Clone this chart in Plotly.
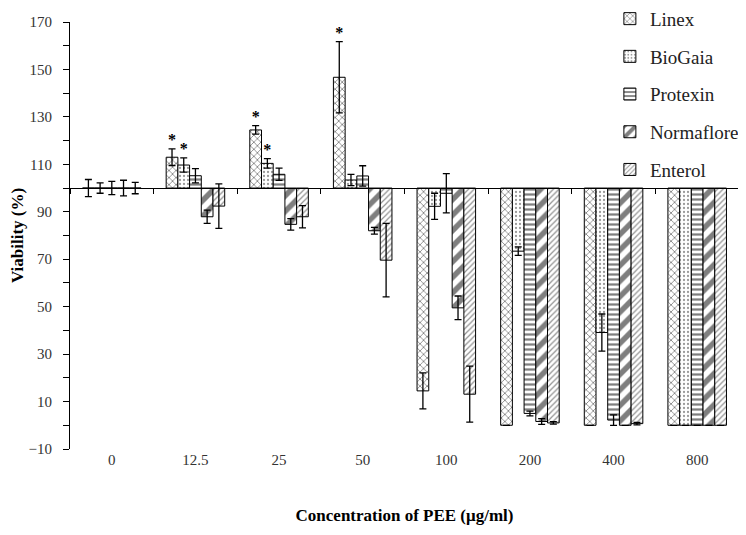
import plotly.graph_objects as go

categories = ["0", "12.5", "25", "50", "100", "200", "400", "800"]
series_names = ["Linex", "BioGaia", "Protexin", "Normaflore", "Enterol"]

linex = [100, 113, 124.5, 146.7, 14.5, 0, 0, 0]
linex_err = [3.6, 3.5, 1.8, 15, 7.6, 0, 0, 0]
biogaia = [100, 109.7, 110.4, 103.4, 92.3, 73.4, 39.1, 0]
biogaia_err = [2.2, 3, 2, 2.4, 5.5, 1.8, 7.8, 0]
protexin = [100, 105.2, 105.8, 105.1, 97.8, 5.0, 2.2, 0]
protexin_err = [2.8, 3, 2.6, 4.3, 8.3, 1, 2.2, 0]
normaflore = [100, 87.9, 84.7, 82, 49.5, 1.6, 0, 0]
normaflore_err = [3.3, 2.8, 2.4, 1.4, 5, 1.2, 0, 0]
enterol = [100, 92.4, 87.9, 69.6, 13.1, 1, 0.7, 0]
enterol_err = [2.4, 9.4, 4.7, 15.5, 11.8, 0.5, 0.5, 0]

# significance flags (asterisks)
linex_sig = [0, 1, 1, 1, 0, 0, 0, 0]
biogaia_sig = [0, 1, 1, 0, 0, 0, 0, 0]
protexin_sig = [0] * 8
normaflore_sig = [0] * 8
enterol_sig = [0] * 8

y_min, y_max, y_step = -10, 170, 20
baseline = 100

values = [linex, biogaia, protexin, normaflore, enterol]
errors = [linex_err, biogaia_err, protexin_err, normaflore_err, enterol_err]
sigs = [linex_sig, biogaia_sig, protexin_sig, normaflore_sig, enterol_sig]

patterns = [
    dict(shape="x", size=5, solidity=0.3, fgcolor="black", bgcolor="white"),
    dict(shape=".", size=4, solidity=0.25, fgcolor="#333", bgcolor="white"),
    dict(shape="-", size=5, solidity=0.45, fgcolor="black", bgcolor="white"),
    dict(shape="/", size=11, solidity=0.5, fgcolor="black", bgcolor="white"),
    dict(shape="/", size=4, solidity=0.3, fgcolor="#222", bgcolor="white"),
]

FONT = "Liberation Serif, Times New Roman, serif"

fig = go.Figure()
for i, name in enumerate(series_names):
    fig.add_trace(go.Bar(
        x=categories,
        y=[v - baseline for v in values[i]],
        base=baseline,
        name=name,
        offsetgroup=name,
        legendgroup=name,
        marker=dict(color="white", line=dict(color="black", width=1), pattern=patterns[i]),
        error_y=dict(type="data", array=errors[i], color="black", thickness=1.3, width=3.5),
    ))

for i, name in enumerate(series_names):
    ys = [v + e if s else None for v, e, s in zip(values[i], errors[i], sigs[i])]
    fig.add_trace(go.Scatter(
        x=categories, y=ys, mode="text", text=["<b>*</b>" if s else "" for s in sigs[i]],
        textposition="top center", textfont=dict(family=FONT, size=16, color="#000000"),
        offsetgroup=name, showlegend=False, hoverinfo="skip", cliponaxis=False,
    ))

# carrier trace for the baseline axis (x2) drawn at y = 100
fig.add_trace(go.Scatter(
    x=categories, y=[None] * len(categories), xaxis="x2", mode="none",
    showlegend=False, hoverinfo="skip",
))

fig.update_layout(
    width=738, height=527,
    margin=dict(l=62, r=7, t=14, b=86, autoexpand=False),
    plot_bgcolor="white", paper_bgcolor="white",
    barmode="group", bargap=0.3, bargroupgap=0,
    scattermode="group", scattergap=0.3,
    font=dict(family=FONT, size=15, color="#333"),
    showlegend=True,
    legend=dict(x=0.807, xanchor="left", y=1.052, yanchor="top",
                font=dict(family=FONT, size=19, color="#222"),
                tracegroupgap=10, bgcolor="rgba(0,0,0,0)"),
    xaxis=dict(type="category", categoryorder="array", categoryarray=categories,
               range=[-0.5, 7.5], showline=False, ticks="", showgrid=False,
               zeroline=False, tickfont=dict(family=FONT, size=15, color="#333"),
               title=dict(text="<b>Concentration of PEE (μg/ml)</b>",
                          font=dict(family=FONT, size=17, color="black"), standoff=42)),
    xaxis2=dict(type="category", categoryorder="array", categoryarray=categories,
                overlaying="x", anchor="free",
                position=(baseline - y_min) / (y_max - y_min),
                range=[-0.5, 7.5], showline=True, linecolor="black", linewidth=1,
                ticks="outside", tickson="boundaries", ticklen=5, tickcolor="black",
                showticklabels=False, showgrid=False, zeroline=False),
    yaxis=dict(range=[y_min, y_max], tick0=y_min, dtick=y_step, showline=True,
               linecolor="black", linewidth=1, ticks="outside", ticklen=6, tickcolor="black",
               minor=dict(dtick=y_step / 2, tick0=0, ticks="outside", ticklen=6, tickcolor="black"),
               showgrid=False, zeroline=False, ticklabelstandoff=8,
               tickfont=dict(family=FONT, size=15, color="#333"),
               title=dict(text="<b>Viability (%)</b>", font=dict(family=FONT, size=17, color="black"),
                          standoff=8)),
)

fig.write_html("out.html")
